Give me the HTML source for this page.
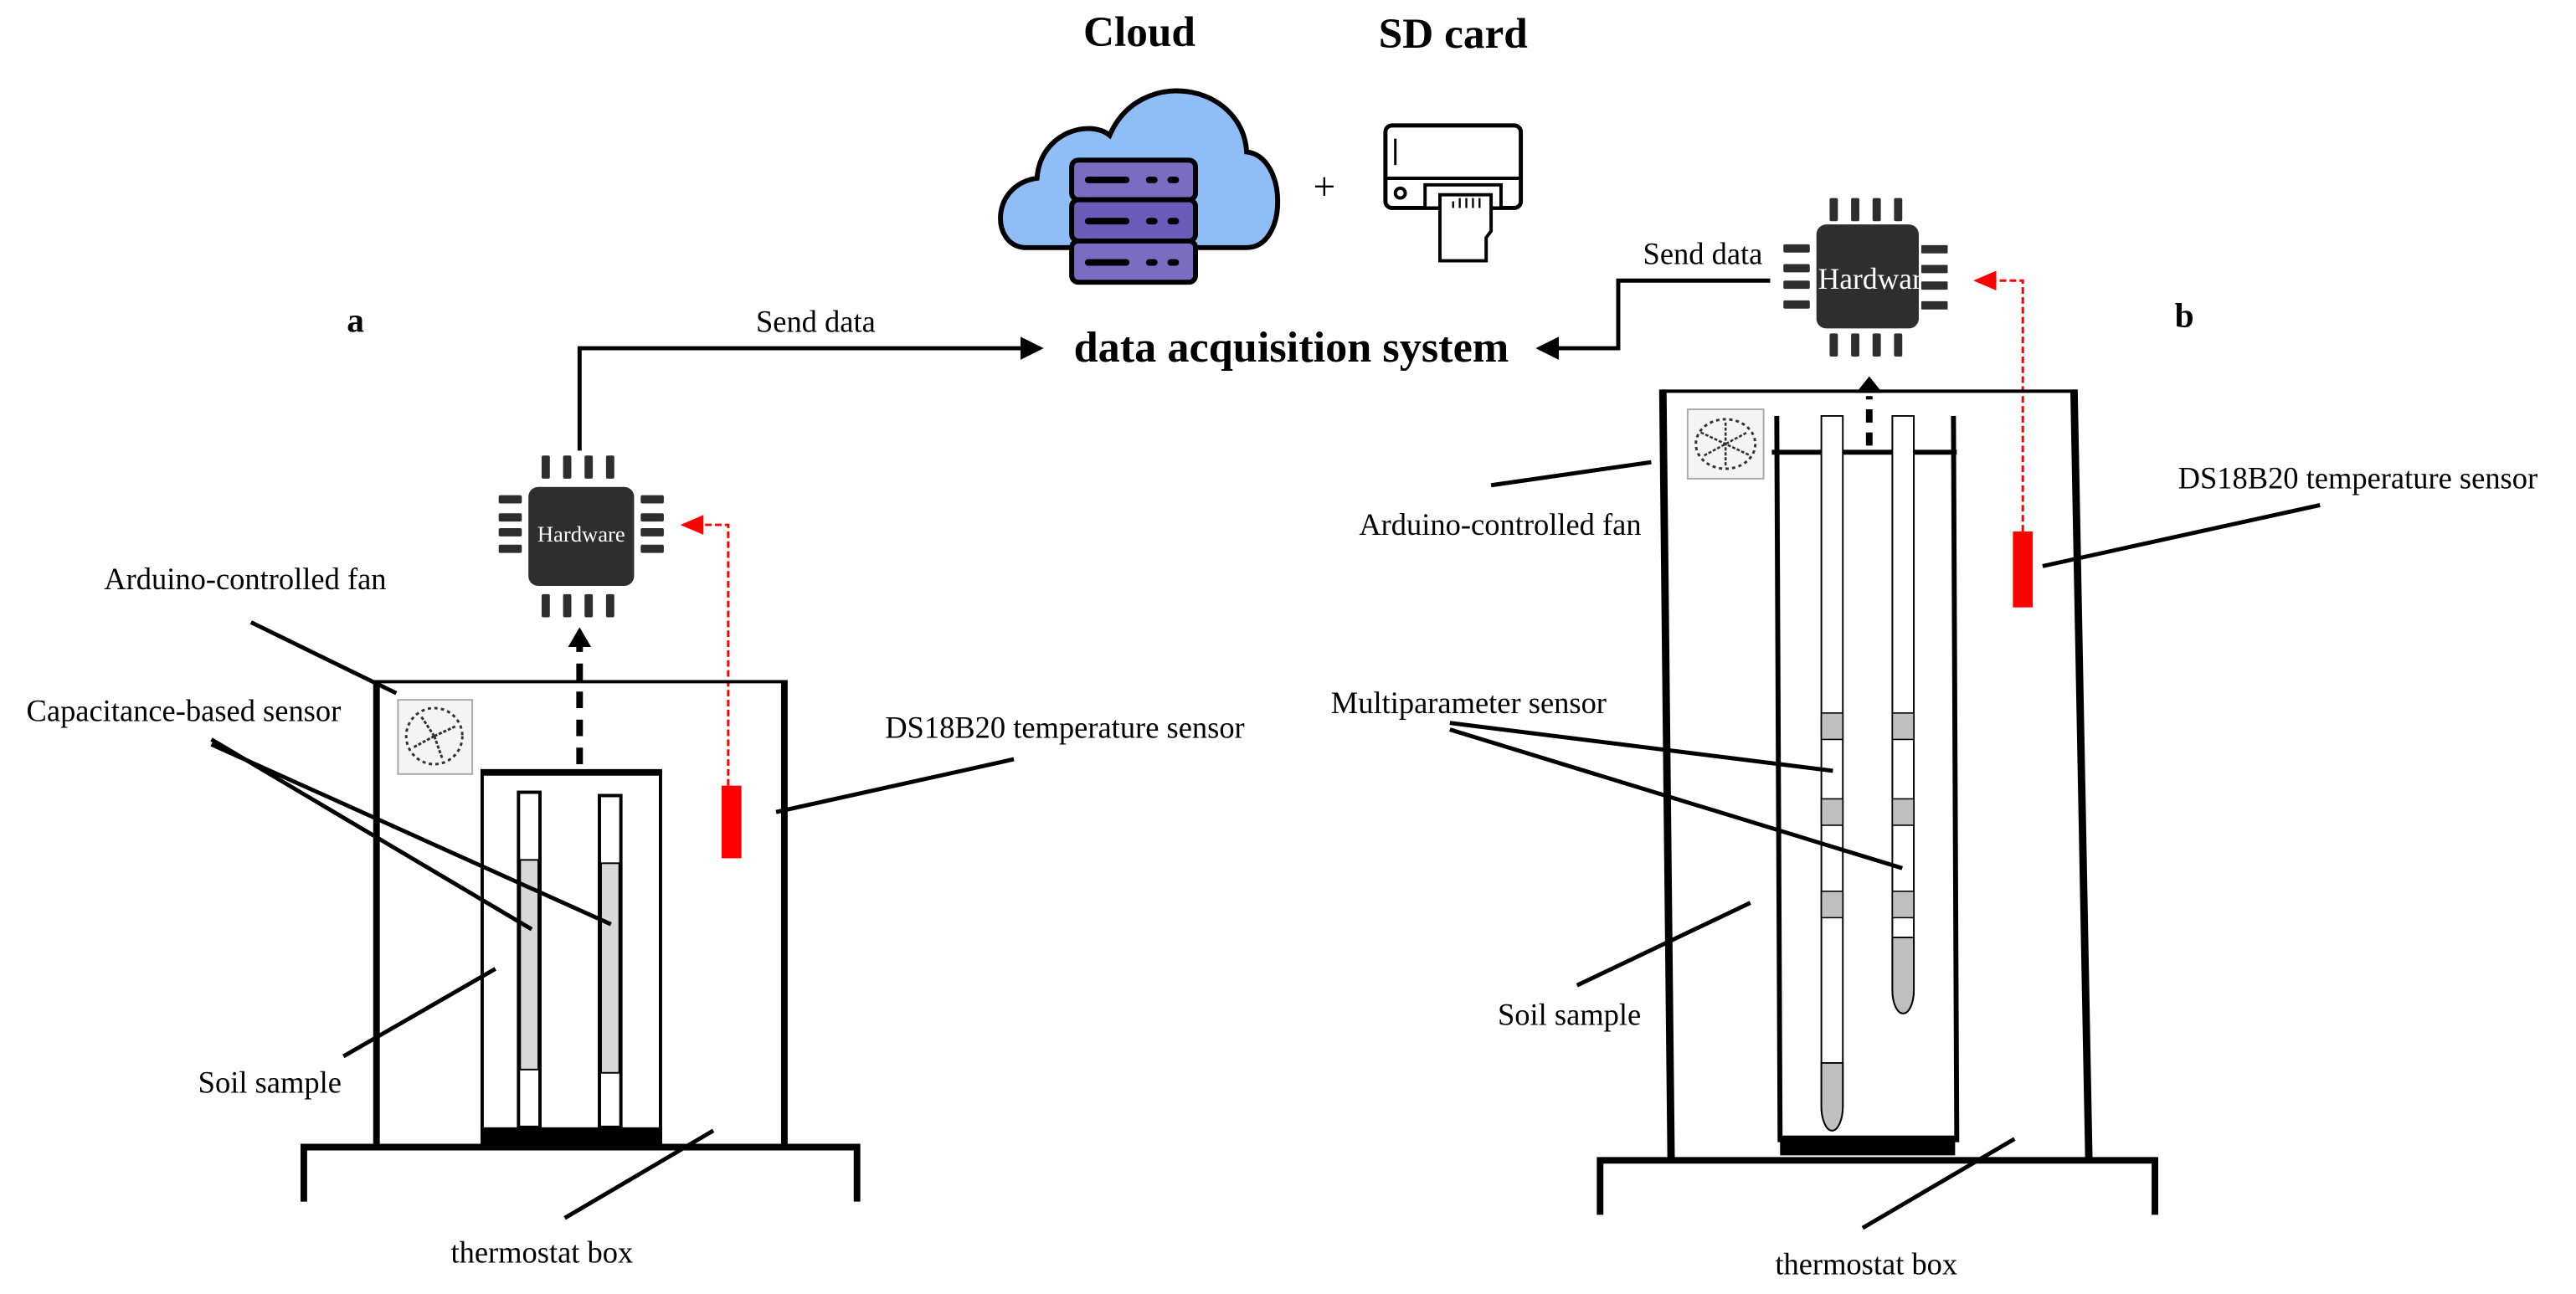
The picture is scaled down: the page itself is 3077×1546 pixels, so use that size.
<!DOCTYPE html>
<html><head><style>html,body{margin:0;padding:0;background:#fff}svg{display:block}</style></head>
<body>
<svg width="3077" height="1546" viewBox="0 0 1560 784" preserveAspectRatio="none" xmlns="http://www.w3.org/2000/svg" font-family="Liberation Serif, serif">
<defs>
<marker id="ab" markerWidth="8" markerHeight="8" refX="7" refY="4" orient="auto" markerUnits="userSpaceOnUse"><path d="M0,0 L8,4 L0,8z" fill="#000"/></marker>
<marker id="ab2" markerWidth="14" markerHeight="14" refX="12" refY="7" orient="auto" markerUnits="userSpaceOnUse"><path d="M0,0 L14,7 L0,14z" fill="#000"/></marker>
<marker id="ar" markerWidth="14" markerHeight="12" refX="12" refY="6" orient="auto" markerUnits="userSpaceOnUse"><path d="M0,0 L14,6 L0,12z" fill="#f00"/></marker>
<clipPath id="cc"><rect x="1100" y="136" width="63" height="63"/></clipPath>
</defs>

<text x="690" y="28" font-size="26" font-weight="bold" text-anchor="middle">Cloud</text>
<text x="880" y="29" font-size="26" font-weight="bold" text-anchor="middle">SD card</text>
<path d="M620,150 C600,148 600,112 628,108 C630,80 660,72 672,82 C690,40 752,50 755,92 C780,95 780,150 755,150 Z" fill="#8fbdf5" stroke="#000" stroke-width="3"/>
<g stroke="#000" stroke-width="3">
<rect x="649" y="97" width="75" height="24" rx="4" fill="#7a6cc0"/>
<rect x="649" y="121" width="75" height="25" rx="4" fill="#6a5cb8"/>
<rect x="649" y="146" width="75" height="25" rx="4" fill="#7a6cc0"/>
</g>
<g stroke="#000" stroke-width="4" stroke-linecap="round">
<line x1="659" y1="109" x2="682" y2="109"/><line x1="696" y1="109" x2="699" y2="109"/><line x1="709" y1="109" x2="712" y2="109"/>
<line x1="659" y1="134" x2="682" y2="134"/><line x1="696" y1="134" x2="699" y2="134"/><line x1="709" y1="134" x2="712" y2="134"/>
<line x1="659" y1="159" x2="682" y2="159"/><line x1="696" y1="159" x2="699" y2="159"/><line x1="709" y1="159" x2="712" y2="159"/>
</g>
<text x="802" y="121" font-size="24" text-anchor="middle">+</text>
<rect x="839" y="76" width="82" height="50" rx="4" fill="#fff" stroke="#000" stroke-width="2.5"/>
<line x1="839" y1="108" x2="921" y2="108" stroke="#000" stroke-width="2"/>
<line x1="845" y1="84" x2="845" y2="100" stroke="#000" stroke-width="1.5"/>
<circle cx="848" cy="117" r="3" fill="none" stroke="#000" stroke-width="2"/>
<rect x="863" y="112" width="46" height="14" fill="#fff" stroke="#000" stroke-width="2"/>
<path d="M872,118 H903 V140 L900,144 V158 H872 Z" fill="#fff" stroke="#000" stroke-width="2"/>
<g stroke="#000" stroke-width="1.2"><line x1="880" y1="122" x2="880" y2="126"/><line x1="884" y1="120" x2="884" y2="126"/><line x1="888" y1="120" x2="888" y2="126"/><line x1="892" y1="120" x2="892" y2="126"/><line x1="896" y1="120" x2="896" y2="126"/></g>

<text x="782" y="219" font-size="26.5" font-weight="bold" text-anchor="middle">data acquisition system</text>
<text x="210" y="201" font-size="21" font-weight="bold">a</text>
<text x="1317" y="198" font-size="21" font-weight="bold">b</text>

<polyline points="351,273 351,211 630,211" fill="none" stroke="#000" stroke-width="2.5" marker-end="url(#ab2)"/>
<text x="494" y="201" font-size="18.5" text-anchor="middle">Send data</text>
<polyline points="1072,170 980,170 980,211 932,211" fill="none" stroke="#000" stroke-width="2.5" marker-end="url(#ab2)"/>
<text x="995" y="160" font-size="18.5">Send data</text>

<g fill="#2e2e2e">
<rect x="320" y="295" width="64" height="60" rx="6"/>
<rect x="328" y="276" width="5" height="14" rx="1"/><rect x="341" y="276" width="5" height="14" rx="1"/><rect x="354" y="276" width="5" height="14" rx="1"/><rect x="367" y="276" width="5" height="14" rx="1"/>
<rect x="328" y="360" width="5" height="14" rx="1"/><rect x="341" y="360" width="5" height="14" rx="1"/><rect x="354" y="360" width="5" height="14" rx="1"/><rect x="367" y="360" width="5" height="14" rx="1"/>
<rect x="302" y="300" width="14" height="5" rx="1"/><rect x="302" y="311" width="14" height="5" rx="1"/><rect x="302" y="320" width="14" height="5" rx="1"/><rect x="302" y="330" width="14" height="5" rx="1"/>
<rect x="388" y="300" width="14" height="5" rx="1"/><rect x="388" y="311" width="14" height="5" rx="1"/><rect x="388" y="320" width="14" height="5" rx="1"/><rect x="388" y="330" width="14" height="5" rx="1"/>
</g>
<text x="352" y="328" font-size="13.5" fill="#fff" text-anchor="middle">Hardware</text>
<polyline points="441,476 441,318 414,318" fill="none" stroke="#f00" stroke-width="1.5" stroke-dasharray="4,2" marker-end="url(#ar)"/>
<rect x="437" y="476" width="12" height="44" fill="#f00"/>
<line x1="351" y1="463" x2="351" y2="392" stroke="#000" stroke-width="4" stroke-dasharray="10,7"/>
<path d="M344,392 L351,380 L358,392 Z" fill="#000"/>

<line x1="228" y1="413" x2="475" y2="413" stroke="#000" stroke-width="2"/>
<line x1="228" y1="412" x2="228" y2="695" stroke="#000" stroke-width="4"/>
<line x1="475" y1="412" x2="475" y2="695" stroke="#000" stroke-width="4"/>
<polyline points="184,728 184,695 519,695 519,728" fill="none" stroke="#000" stroke-width="4"/>
<rect x="292" y="468" width="108" height="220" fill="none" stroke="#000" stroke-width="2"/>
<line x1="291" y1="468" x2="401" y2="468" stroke="#000" stroke-width="4"/>
<rect x="291" y="683" width="110" height="11" fill="#000"/>
<rect x="314" y="480" width="13" height="203" fill="#fff" stroke="#000" stroke-width="2"/>
<rect x="315" y="521" width="11" height="127" fill="#d8d8d8" stroke="#000" stroke-width="1"/>
<rect x="363" y="482" width="13" height="201" fill="#fff" stroke="#000" stroke-width="2"/>
<rect x="364" y="523" width="11" height="127" fill="#d8d8d8" stroke="#000" stroke-width="1"/>
<rect x="241" y="424" width="45" height="45" fill="#f4f4f4" stroke="#aaa" stroke-width="1"/>
<circle cx="263" cy="446" r="17" fill="none" stroke="#333" stroke-width="1.5" stroke-dasharray="2,2"/>
<path d="M263,446 L255,434 M263,446 L276,440 M263,446 L268,460 M263,446 L250,453" stroke="#333" stroke-width="1.5" stroke-dasharray="2,1"/>
<text x="63" y="357" font-size="18.5">Arduino-controlled fan</text>
<line x1="152" y1="377" x2="240" y2="420" stroke="#000" stroke-width="2.5"/>
<text x="16" y="437" font-size="18.5">Capacitance-based sensor</text>
<line x1="128" y1="448" x2="322" y2="563" stroke="#000" stroke-width="2.5"/>
<line x1="128" y1="451" x2="370" y2="560" stroke="#000" stroke-width="2.5"/>
<text x="536" y="447" font-size="18.5">DS18B20 temperature sensor</text>
<line x1="470" y1="492" x2="614" y2="460" stroke="#000" stroke-width="2.5"/>
<text x="120" y="662" font-size="18.5">Soil sample</text>
<line x1="208" y1="640" x2="300" y2="587" stroke="#000" stroke-width="2.5"/>
<text x="273" y="765" font-size="18.5">thermostat box</text>
<line x1="342" y1="738" x2="432" y2="685" stroke="#000" stroke-width="2.5"/>

<g fill="#2e2e2e">
<rect x="1100" y="136" width="62" height="63" rx="6"/>
<rect x="1108" y="120" width="5" height="14" rx="1"/><rect x="1121" y="120" width="5" height="14" rx="1"/><rect x="1134" y="120" width="5" height="14" rx="1"/><rect x="1147" y="120" width="5" height="14" rx="1"/>
<rect x="1108" y="202" width="5" height="14" rx="1"/><rect x="1121" y="202" width="5" height="14" rx="1"/><rect x="1134" y="202" width="5" height="14" rx="1"/><rect x="1147" y="202" width="5" height="14" rx="1"/>
<rect x="1080" y="148" width="16" height="5" rx="1"/><rect x="1080" y="160" width="16" height="5" rx="1"/><rect x="1080" y="170" width="16" height="5" rx="1"/><rect x="1080" y="182" width="16" height="5" rx="1"/>
</g>
<text x="1101" y="175" font-size="18" fill="#fff" clip-path="url(#cc)">Hardware</text>
<g fill="#2e2e2e" stroke="#fff" stroke-width="1">
<rect x="1163" y="148" width="17" height="6" rx="1"/><rect x="1163" y="160" width="17" height="6" rx="1"/><rect x="1163" y="170" width="17" height="6" rx="1"/><rect x="1163" y="182" width="17" height="6" rx="1"/>
</g>
<polyline points="1225,322 1225,170 1197,170" fill="none" stroke="#f00" stroke-width="1.5" stroke-dasharray="4,2" marker-end="url(#ar)"/>
<rect x="1219" y="322" width="12" height="46" fill="#f00"/>
<line x1="1132" y1="270" x2="1132" y2="240" stroke="#000" stroke-width="4" stroke-dasharray="8,6"/>
<path d="M1124,238 L1132,228 L1140,238 Z" fill="#000"/>

<line x1="1007" y1="237" x2="1257" y2="237" stroke="#000" stroke-width="2"/>
<line x1="1007" y1="236" x2="1012" y2="703" stroke="#000" stroke-width="4.5"/>
<line x1="1256" y1="236" x2="1265" y2="703" stroke="#000" stroke-width="4.5"/>
<polyline points="969,736 969,703 1305,703 1305,736" fill="none" stroke="#000" stroke-width="4"/>
<line x1="1076" y1="252" x2="1078" y2="692" stroke="#000" stroke-width="3"/>
<line x1="1183" y1="252" x2="1185" y2="692" stroke="#000" stroke-width="3"/>
<line x1="1073" y1="274" x2="1185" y2="274" stroke="#000" stroke-width="3"/>
<rect x="1078" y="688" width="106" height="12" fill="#000"/>
<path d="M1103,252 V670 A6.5,15 0 0 0 1116,670 V252 Z" fill="#fff" stroke="#000" stroke-width="1"/>
<path d="M1103,644 V670 A6.5,15 0 0 0 1116,670 V644 Z" fill="#bfbfbf" stroke="#000" stroke-width="1"/>
<rect x="1103" y="432" width="13" height="16" fill="#bfbfbf" stroke="#000" stroke-width="0.8"/>
<rect x="1103" y="484" width="13" height="16" fill="#bfbfbf" stroke="#000" stroke-width="0.8"/>
<rect x="1103" y="540" width="13" height="16" fill="#bfbfbf" stroke="#000" stroke-width="0.8"/>
<path d="M1146,252 V600 A6.5,14 0 0 0 1159,600 V252 Z" fill="#fff" stroke="#000" stroke-width="1"/>
<path d="M1146,568 V600 A6.5,14 0 0 0 1159,600 V568 Z" fill="#bfbfbf" stroke="#000" stroke-width="1"/>
<rect x="1146" y="432" width="13" height="16" fill="#bfbfbf" stroke="#000" stroke-width="0.8"/>
<rect x="1146" y="484" width="13" height="16" fill="#bfbfbf" stroke="#000" stroke-width="0.8"/>
<rect x="1146" y="540" width="13" height="16" fill="#bfbfbf" stroke="#000" stroke-width="0.8"/>
<rect x="1022" y="248" width="46" height="42" fill="#f4f4f4" stroke="#aaa" stroke-width="1"/>
<ellipse cx="1045" cy="269" rx="18" ry="15" fill="none" stroke="#333" stroke-width="1.5" stroke-dasharray="2,2"/>
<path d="M1030,262 L1060,276 M1032,276 L1058,262 M1045,256 L1045,282" stroke="#333" stroke-width="1.3" stroke-dasharray="2,1"/>
<text x="823" y="324" font-size="18.5">Arduino-controlled fan</text>
<line x1="903" y1="294" x2="1000" y2="280" stroke="#000" stroke-width="2.5"/>
<text x="806" y="432" font-size="18.5">Multiparameter sensor</text>
<line x1="878" y1="438" x2="1110" y2="467" stroke="#000" stroke-width="2.5"/>
<line x1="878" y1="442" x2="1152" y2="526" stroke="#000" stroke-width="2.5"/>
<text x="907" y="621" font-size="18.5">Soil sample</text>
<line x1="955" y1="597" x2="1060" y2="547" stroke="#000" stroke-width="2.5"/>
<text x="1075" y="772" font-size="18.5">thermostat box</text>
<line x1="1128" y1="744" x2="1220" y2="690" stroke="#000" stroke-width="2.5"/>
<text x="1319" y="296" font-size="18.5">DS18B20 temperature sensor</text>
<line x1="1237" y1="343" x2="1405" y2="306" stroke="#000" stroke-width="2.5"/>
</svg>
</body></html>
